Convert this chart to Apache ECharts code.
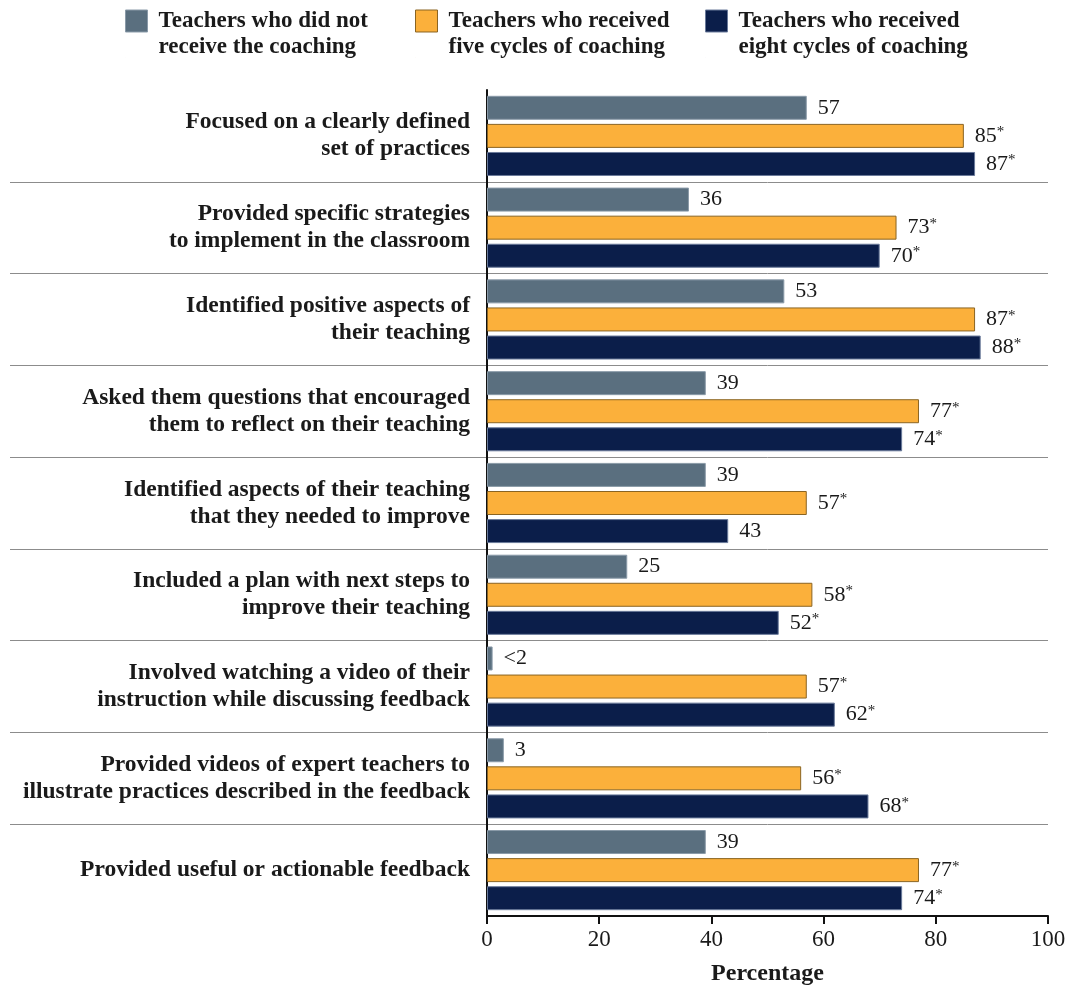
<!DOCTYPE html>
<html>
<head>
<meta charset="utf-8">
<script src="https://cdn.jsdelivr.net/npm/echarts@6/dist/echarts.min.js"></script>
<style>html,body{margin:0;padding:0;background:#fff}#c{width:1072px;height:985px}</style>
</head>
<body>
<div id="c"></div>
<script>
const categories = [
  'Focused on a clearly defined\nset of practices',
  'Provided specific strategies\nto implement in the classroom',
  'Identified positive aspects of\ntheir teaching',
  'Asked them questions that encouraged\nthem to reflect on their teaching',
  'Identified aspects of their teaching\nthat they needed to improve',
  'Included a plan with next steps to\nimprove their teaching',
  'Involved watching a video of their\ninstruction while discussing feedback',
  'Provided videos of expert teachers to\nillustrate practices described in the feedback',
  'Provided useful or actionable feedback'
];
const seriesNames = [
  'Teachers who did not\nreceive the coaching',
  'Teachers who received\nfive cycles of coaching',
  'Teachers who received\neight cycles of coaching'
];
const noCoaching = [57, 36, 53, 39, 39, 25, 1, 3, 39];
const fiveCycles = [85, 73, 87, 77, 57, 58, 57, 56, 77];
const eightCycles = [87, 70, 88, 74, 43, 52, 62, 68, 74];
const noCoachingLabels = ['57', '36', '53', '39', '39', '25', '<2', '3', '39'];
const fiveCyclesLabels = ['85*', '73*', '87*', '77*', '57*', '58*', '57*', '56*', '77*'];
const eightCyclesLabels = ['87*', '70*', '88*', '74*', '43', '52*', '62*', '68*', '74*'];
const xTicks = [0, 20, 40, 60, 80, 100];

const serif = '"Liberation Serif", "DejaVu Serif", serif';
const colors = ['#5a6f7f', '#fbb03b', '#0b1e4a'];
const borders = ['#8a9aa8', '#8a6422', '#6a7a9a'];
const allValues = [noCoaching, fiveCycles, eightCycles];
const allLabels = [noCoachingLabels, fiveCyclesLabels, eightCyclesLabels];
const legendLeft = [120, 410, 700];
const iconPath = 'path://M0,0L22,0L22,22L0,22Z M0,48L0.01,48L0.01,48.01Z';

function fmtLabel(s) {
  if (s.endsWith('*')) return '{n|' + s.slice(0, -1) + '}{s|*}';
  return '{n|' + s + '}';
}

const chart = echarts.init(document.getElementById('c'));
chart.setOption({
  animation: false,
  backgroundColor: '#fff',
  legend: seriesNames.map((n, i) => ({
    data: [n],
    left: legendLeft[i],
    top: 3,
    icon: iconPath,
    itemWidth: 22,
    itemHeight: 48,
    itemGap: 0,
    selectedMode: false,
    itemStyle: { borderColor: borders[i], borderWidth: 1 },
    textStyle: { fontFamily: serif, fontWeight: 'bold', fontSize: 23, lineHeight: 26, color: '#1a1a1a', padding: [0, 0, 0, 6] }
  })),
  grid: [
    { left: 487, right: 24, top: 90, bottom: 69, outerBoundsMode: 'none', containLabel: false },
    { left: 10, width: 477, top: 90, bottom: 69, outerBoundsMode: 'none', containLabel: false }
  ],
  xAxis: [
    {
      type: 'value', gridIndex: 0, min: xTicks[0], max: xTicks[xTicks.length - 1], interval: 20,
      name: 'Percentage', nameLocation: 'middle', nameGap: 46,
      nameTextStyle: { fontFamily: serif, fontWeight: 'bold', fontSize: 24, color: '#1a1a1a' },
      axisLine: { show: true, lineStyle: { color: '#111', width: 2 } },
      axisTick: { show: true, length: 8, lineStyle: { color: '#111', width: 2 } },
      axisLabel: { fontFamily: serif, fontSize: 23, color: '#1a1a1a', margin: 12 },
      splitLine: { show: false }
    },
    { type: 'value', gridIndex: 1, show: false, min: 0, max: 1 }
  ],
  yAxis: [
    {
      type: 'category', gridIndex: 0, data: categories, inverse: true,
      axisLine: { show: true, lineStyle: { color: '#111', width: 2 } },
      axisTick: { show: false },
      axisLabel: { fontFamily: serif, fontWeight: 'bold', fontSize: 23.5, lineHeight: 27, color: '#1a1a1a', margin: 17, align: 'right' },
      splitLine: { show: true, showMinLine: false, showMaxLine: false, lineStyle: { color: '#8c8c8c', width: 1 } }
    },
    {
      type: 'category', gridIndex: 1, data: categories, inverse: true,
      axisLine: { show: false }, axisTick: { show: false }, axisLabel: { show: false },
      splitLine: { show: true, showMinLine: false, showMaxLine: false, lineStyle: { color: '#8c8c8c', width: 1 } }
    }
  ],
  series: seriesNames.map((n, i) => ({
    name: n,
    type: 'bar',
    xAxisIndex: 0,
    yAxisIndex: 0,
    data: allValues[i],
    barWidth: 24,
    barGap: '17%',
    itemStyle: { color: colors[i], borderColor: borders[i], borderWidth: 1 },
    label: {
      show: true, position: 'right', distance: 11,
      formatter: p => fmtLabel(allLabels[i][p.dataIndex]),
      rich: {
        n: { fontFamily: serif, fontSize: 22, lineHeight: 22, color: '#1a1a1a' },
        s: { fontFamily: serif, fontSize: 15, lineHeight: 22, verticalAlign: 'top', color: '#1a1a1a', padding: [0, 0, 6, 0] }
      }
    }
  }))
});
</script>
</body>
</html>
